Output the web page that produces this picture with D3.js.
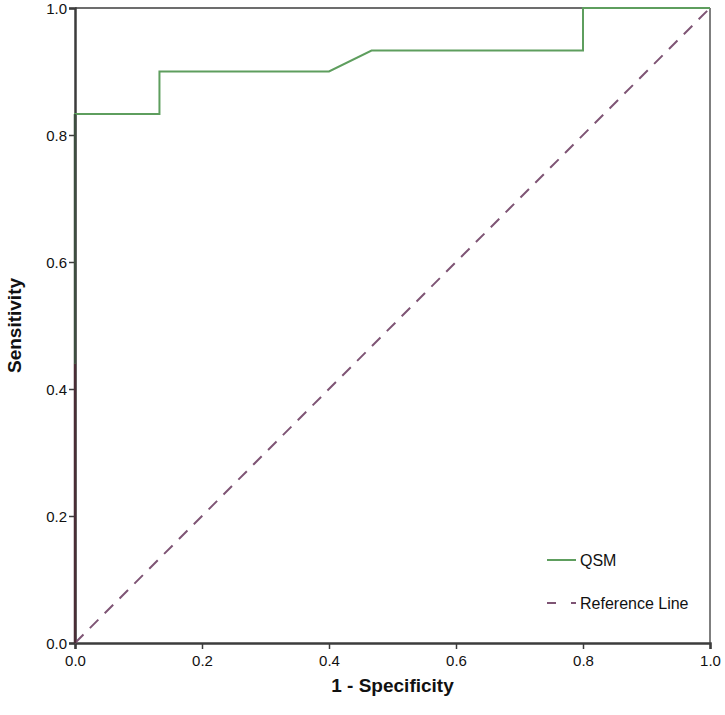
<!DOCTYPE html>
<html>
<head>
<meta charset="utf-8">
<script src="https://cdn.jsdelivr.net/npm/d3@7"></script>
<style>
  html, body { margin: 0; padding: 0; background: #fff; }
  svg text { font-family: "Liberation Sans", Arial, sans-serif; }
</style>
</head>
<body>
<svg id="chart" width="725" height="715"></svg>
<script>
// ---- data ----
const qsmFPR = [0, 0, 0.133, 0.133, 0.4, 0.467, 0.8, 0.8, 1.0];
const qsmTPR = [0, 0.833, 0.833, 0.9, 0.9, 0.933, 0.933, 1.0, 1.0];
const refFPR = [0, 1];
const refTPR = [0, 1];
const xTicks = [0, 0.2, 0.4, 0.6, 0.8, 1.0];
const yTicks = [0, 0.2, 0.4, 0.6, 0.8, 1.0];
const seriesNames = ["QSM", "Reference Line"];

(function () {
// ---- layout ----
const svg = d3.select("#chart");
const mLeft = 75, mRight = 710, mTop = 8, mBottom = 643;
const x = d3.scaleLinear().domain([0, 1]).range([mLeft, mRight]);
const y = d3.scaleLinear().domain([0, 1]).range([mBottom, mTop]);

const axisColor = "#3c3c3c";
const qsmColor = "#5e9e5e";
const refColor = "#7e5474";

// frame (top and right)
svg.append("line").attr("x1", mLeft).attr("x2", mRight).attr("y1", mTop).attr("y2", mTop)
  .attr("stroke", axisColor).attr("stroke-width", 1.5);
svg.append("line").attr("x1", mRight).attr("x2", mRight).attr("y1", mTop).attr("y2", mBottom)
  .attr("stroke", "#555").attr("stroke-width", 1.5);

// axes
const fmt = d3.format(".1f");
const xAxis = svg.append("g").attr("transform", `translate(0,${mBottom})`)
  .call(d3.axisBottom(x).tickValues(xTicks).tickFormat(fmt).tickSize(6).tickPadding(4));
const yAxis = svg.append("g").attr("transform", `translate(${mLeft},0)`)
  .call(d3.axisLeft(y).tickValues(yTicks).tickFormat(fmt).tickSize(6).tickPadding(2));
[xAxis, yAxis].forEach(g => {
  g.select(".domain").attr("stroke", axisColor).attr("stroke-width", 2.5);
  g.selectAll(".tick line").attr("stroke", axisColor).attr("stroke-width", 1.5);
  g.selectAll(".tick text").attr("fill", "#111").style("font-size", "15px");
});
yAxis.selectAll(".tick text").attr("dy", "0.35em");
xAxis.selectAll(".tick text").attr("dy", "0.85em");

// reference line
const line = d3.line().x(d => x(d[0])).y(d => y(d[1]));
svg.append("path")
  .datum(refFPR.map((v, i) => [v, refTPR[i]]))
  .attr("d", line).attr("fill", "none")
  .attr("stroke", refColor).attr("stroke-width", 2)
  .attr("stroke-dasharray", "12,9");

// QSM curve
svg.append("path")
  .datum(qsmFPR.map((v, i) => [v, qsmTPR[i]]))
  .attr("d", line).attr("fill", "none")
  .attr("stroke", qsmColor).attr("stroke-width", 2);

// darker overlap along left axis where curve coincides
svg.append("line").attr("x1", x(0)).attr("x2", x(0)).attr("y1", y(0)).attr("y2", y(0.44))
  .attr("stroke", "#4a2e36").attr("stroke-width", 2.5);
svg.append("line").attr("x1", x(0)).attr("x2", x(0)).attr("y1", y(0.44)).attr("y2", y(0.833))
  .attr("stroke", "#3e4e40").attr("stroke-width", 2.5);

// legend
const lg = svg.append("g");
lg.append("line").attr("x1", 547).attr("x2", 576).attr("y1", 560).attr("y2", 560)
  .attr("stroke", qsmColor).attr("stroke-width", 2);
lg.append("text").attr("x", 580).attr("y", 566).text(seriesNames[0])
  .style("font-size", "16px").attr("fill", "#111");
lg.append("line").attr("x1", 547).attr("x2", 576).attr("y1", 603).attr("y2", 603)
  .attr("stroke", refColor).attr("stroke-width", 2).attr("stroke-dasharray", "9,15");
lg.append("text").attr("x", 580).attr("y", 609).text(seriesNames[1])
  .style("font-size", "16px").attr("fill", "#111");

// axis titles
svg.append("text").attr("x", (mLeft + mRight) / 2).attr("y", 692)
  .attr("text-anchor", "middle").style("font-size", "19px").style("font-weight", "bold")
  .attr("fill", "#111").text("1 - Specificity");
svg.append("text").attr("transform", `translate(21,${(mTop + mBottom) / 2}) rotate(-90)`)
  .attr("text-anchor", "middle").style("font-size", "19px").style("font-weight", "bold")
  .attr("fill", "#111").text("Sensitivity");
})();
</script>
</body>
</html>
